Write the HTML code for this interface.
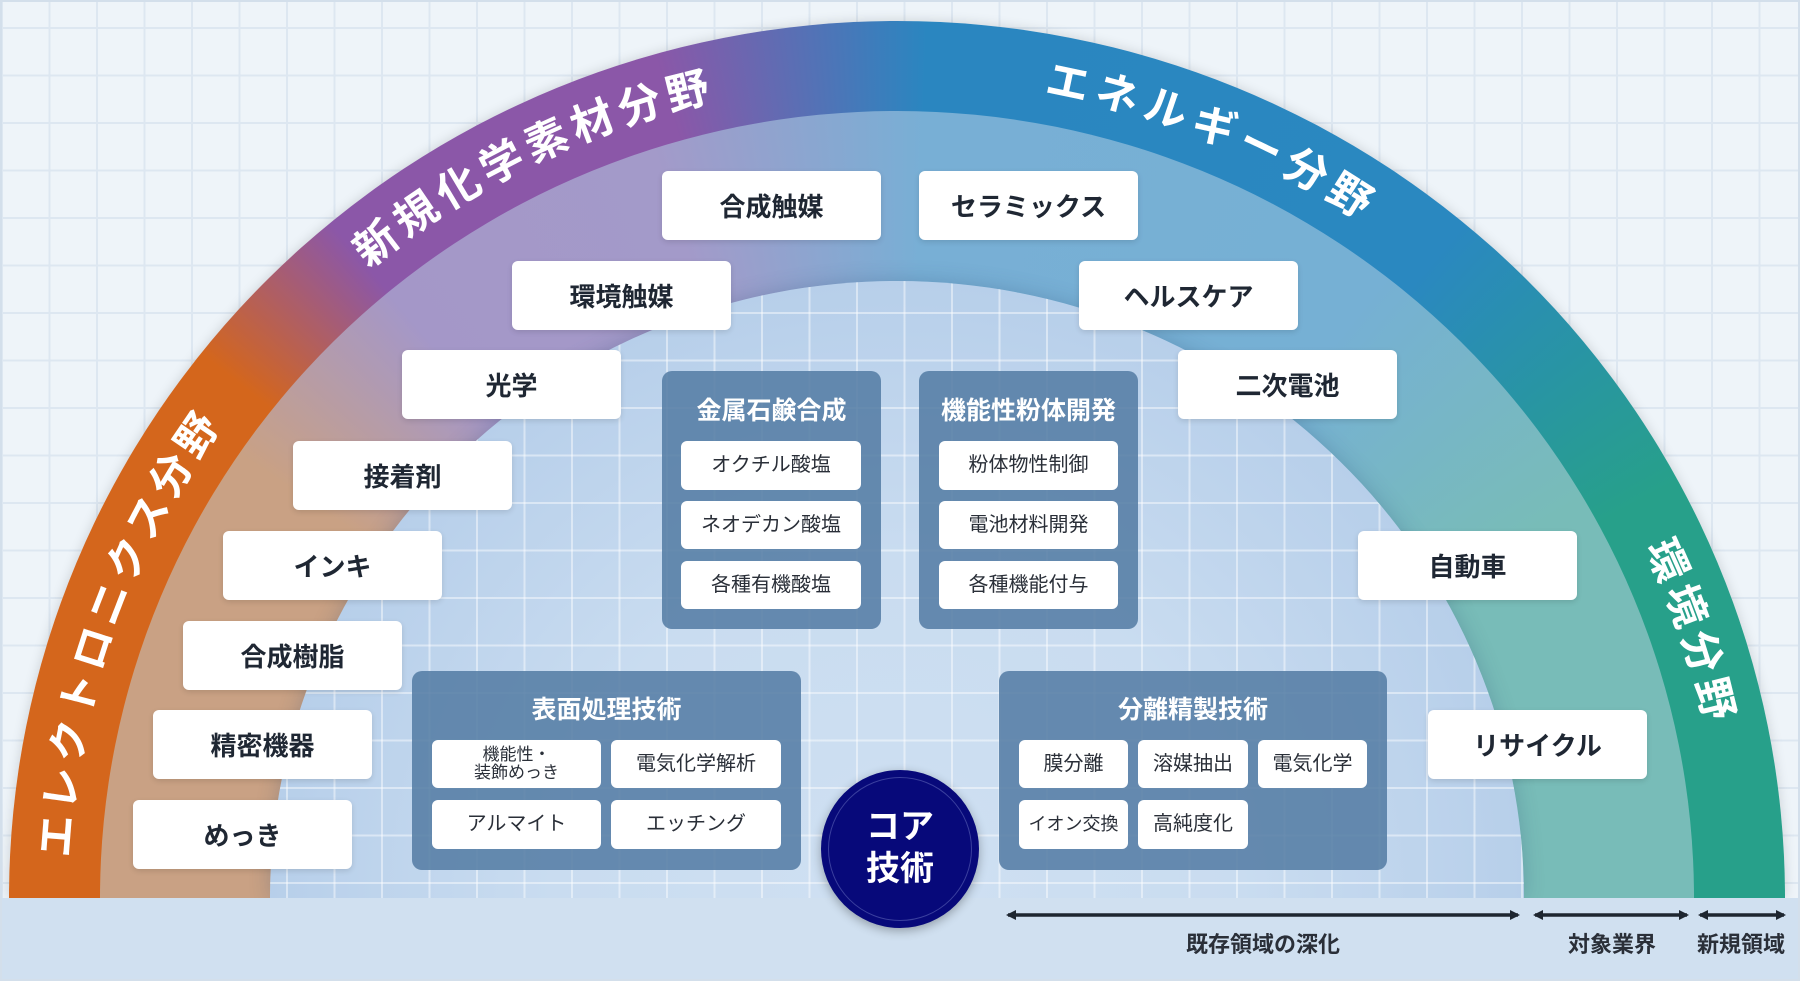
<!DOCTYPE html>
<html style="overflow:hidden;width:1800px;height:981px"><head><meta charset="utf-8"><style>
*{margin:0;padding:0;box-sizing:border-box}
body{width:1800px;height:981px;overflow:hidden;background:#eef4f9;font-family:"Liberation Sans","Noto Sans CJK JP",sans-serif;position:relative}
.grid{position:absolute;left:0;top:0;width:1800px;height:981px;background-image:linear-gradient(#dde7f1 2px,transparent 2px),linear-gradient(90deg,#dde7f1 2px,transparent 2px);background-size:47.5px 47.5px;background-position:1px 27px}
.ell{position:absolute}
.outer{left:9px;top:21px;width:1776px;height:877px;border-radius:888px 888px 0 0/877px 877px 0 0;background:conic-gradient(from 270deg at 50% 100%,#d4661c 0deg,#d4661c 38deg,#8b57a8 50deg,#8b57a8 74deg,#2a86c0 92deg,#2a88c0 130deg,#27a08a 152deg,#27a08a 180deg,#27a08a 360deg);box-shadow:0 0 12px rgba(0,0,0,.15)}
.mid{left:100px;top:111px;width:1594px;height:787px;border-radius:797px 797px 0 0/787px 787px 0 0;background:conic-gradient(from 270deg at 50% 100%,#c9a184 0deg,#c9a184 34deg,#a497c8 50deg,#a39ac9 72deg,#78afd5 92deg,#76b0d4 128deg,#78bcb8 150deg,#78bcb8 180deg,#78bcb8 360deg)}
.inner{left:270px;top:281px;width:1254px;height:617px;border-radius:627px 627px 0 0/617px 617px 0 0;background:radial-gradient(627px 617px at 50% 100%,#cfe0f2 0%,#c9dcf0 55%,#b7cfea 100%);overflow:hidden;box-shadow:0 0 20px rgba(40,70,110,.25)}
.inner:after{content:"";position:absolute;left:0;top:0;width:100%;height:100%;background-image:linear-gradient(rgba(255,255,255,.45) 2px,transparent 2px),linear-gradient(90deg,rgba(255,255,255,.45) 2px,transparent 2px);background-size:47.5px 47.5px;background-position:-269px -254px}
.bottom{position:absolute;left:0;top:898px;width:1800px;height:83px;background:#d0e0f0}
.box{position:absolute;width:219px;height:69px;background:#fff;border-radius:6px;box-shadow:0 2px 6px rgba(0,0,0,.12);display:flex;align-items:center;justify-content:center;font-weight:700;font-size:26px;color:#1f2733}
.panel{position:absolute;background:rgba(85,125,165,.88);border-radius:10px}
.pt{position:absolute;left:0;width:100%;text-align:center;color:#fff;font-weight:700;font-size:25px}
.sb{position:absolute;background:#fff;border-radius:6px;display:flex;align-items:center;justify-content:center;font-size:20px;color:#2a2f38;text-align:center;line-height:1.05}
.core{position:absolute;left:821px;top:770px;width:158px;height:158px;border-radius:50%;background:#07097a;box-shadow:0 3px 10px rgba(0,0,0,.3)}
.core:before{content:"";position:absolute;left:7px;top:7px;right:7px;bottom:7px;border-radius:50%;border:1.5px solid #3a3f9e}
.core div{position:absolute;width:100%;top:36px;text-align:center;color:#fff;font-weight:700;font-size:34px;line-height:42px}
.lbl{position:absolute;top:931px;font-weight:700;font-size:22px;line-height:28px;color:#2a2f38;transform:translateX(-50%);white-space:nowrap}
.frame{position:absolute;left:0;top:0;width:1800px;height:981px;border:2px solid #d3dfeb;pointer-events:none}
</style></head><body>
<div class="grid"></div>
<div class="ell outer"></div>
<div class="ell mid"></div>
<div class="ell inner"></div>
<div class="bottom"></div>
<svg style="position:absolute;left:0;top:0" width="1800" height="981">
<defs><path id="arc" d="M 69 898 A 828 818 0 0 1 1725 898"/>
<marker id="ah" markerWidth="10" markerHeight="10" refX="8" refY="5" orient="auto-start-reverse" markerUnits="userSpaceOnUse"><path d="M0 0 L10 5 L0 10 Z" fill="#1e2630"/></marker></defs>
<g fill="#fff" font-weight="700" font-family="Liberation Sans, Noto Sans CJK JP, sans-serif">
<text font-size="42" letter-spacing="5"><textPath href="#arc" startOffset="40">エレクトロニクス分野</textPath></text>
<text font-size="43" letter-spacing="6"><textPath href="#arc" startOffset="720">新規化学素材分野</textPath></text>
<text font-size="43" letter-spacing="7"><textPath href="#arc" startOffset="1440">エネルギー分野</textPath></text>
<text font-size="42" letter-spacing="6"><textPath href="#arc" startOffset="2222">環境分野</textPath></text>
</g>
<g stroke="#1e2630" stroke-width="3.5">
<line x1="1008" y1="915" x2="1518" y2="915" marker-start="url(#ah)" marker-end="url(#ah)"/>
<line x1="1535" y1="915" x2="1687" y2="915" marker-start="url(#ah)" marker-end="url(#ah)"/>
<line x1="1700" y1="915" x2="1784" y2="915" marker-start="url(#ah)" marker-end="url(#ah)"/>
</g>
</svg>
<div class="lbl" style="left:1263px">既存領域の深化</div>
<div class="lbl" style="left:1612px">対象業界</div>
<div class="lbl" style="left:1741px">新規領域</div>

<div class="box" style="left:662px;top:171px">合成触媒</div>
<div class="box" style="left:512px;top:261px">環境触媒</div>
<div class="box" style="left:402px;top:350px">光学</div>
<div class="box" style="left:293px;top:441px">接着剤</div>
<div class="box" style="left:223px;top:531px">インキ</div>
<div class="box" style="left:183px;top:621px">合成樹脂</div>
<div class="box" style="left:153px;top:710px">精密機器</div>
<div class="box" style="left:133px;top:800px">めっき</div>
<div class="box" style="left:919px;top:171px">セラミックス</div>
<div class="box" style="left:1079px;top:261px">ヘルスケア</div>
<div class="box" style="left:1178px;top:350px">二次電池</div>
<div class="box" style="left:1358px;top:531px">自動車</div>
<div class="box" style="left:1428px;top:710px">リサイクル</div>

<div class="panel" style="left:662px;top:371px;width:219px;height:258px">
<div class="pt" style="top:20px">金属石鹸合成</div>
<div class="sb" style="left:19px;top:70px;width:180px;height:49px">オクチル酸塩</div>
<div class="sb" style="left:19px;top:130px;width:180px;height:48px">ネオデカン酸塩</div>
<div class="sb" style="left:19px;top:190px;width:180px;height:48px">各種有機酸塩</div>
</div>
<div class="panel" style="left:919px;top:371px;width:219px;height:258px">
<div class="pt" style="top:20px">機能性粉体開発</div>
<div class="sb" style="left:20px;top:70px;width:179px;height:49px">粉体物性制御</div>
<div class="sb" style="left:20px;top:130px;width:179px;height:48px">電池材料開発</div>
<div class="sb" style="left:20px;top:190px;width:179px;height:48px">各種機能付与</div>
</div>
<div class="panel" style="left:412px;top:671px;width:389px;height:199px">
<div class="pt" style="top:19px">表面処理技術</div>
<div class="sb" style="left:20px;top:69px;width:169px;height:48px;font-size:17px">機能性・<br>装飾めっき</div>
<div class="sb" style="left:199px;top:69px;width:170px;height:48px">電気化学解析</div>
<div class="sb" style="left:20px;top:129px;width:169px;height:49px">アルマイト</div>
<div class="sb" style="left:199px;top:129px;width:170px;height:49px">エッチング</div>
</div>
<div class="panel" style="left:999px;top:671px;width:388px;height:199px">
<div class="pt" style="top:19px">分離精製技術</div>
<div class="sb" style="left:20px;top:69px;width:109px;height:48px">膜分離</div>
<div class="sb" style="left:139px;top:69px;width:110px;height:48px">溶媒抽出</div>
<div class="sb" style="left:259px;top:69px;width:109px;height:48px">電気化学</div>
<div class="sb" style="left:20px;top:129px;width:109px;height:49px;font-size:18px">イオン交換</div>
<div class="sb" style="left:139px;top:129px;width:110px;height:49px">高純度化</div>
</div>
<div class="core"><div>コア<br>技術</div></div>
<div class="frame"></div>
</body></html>
